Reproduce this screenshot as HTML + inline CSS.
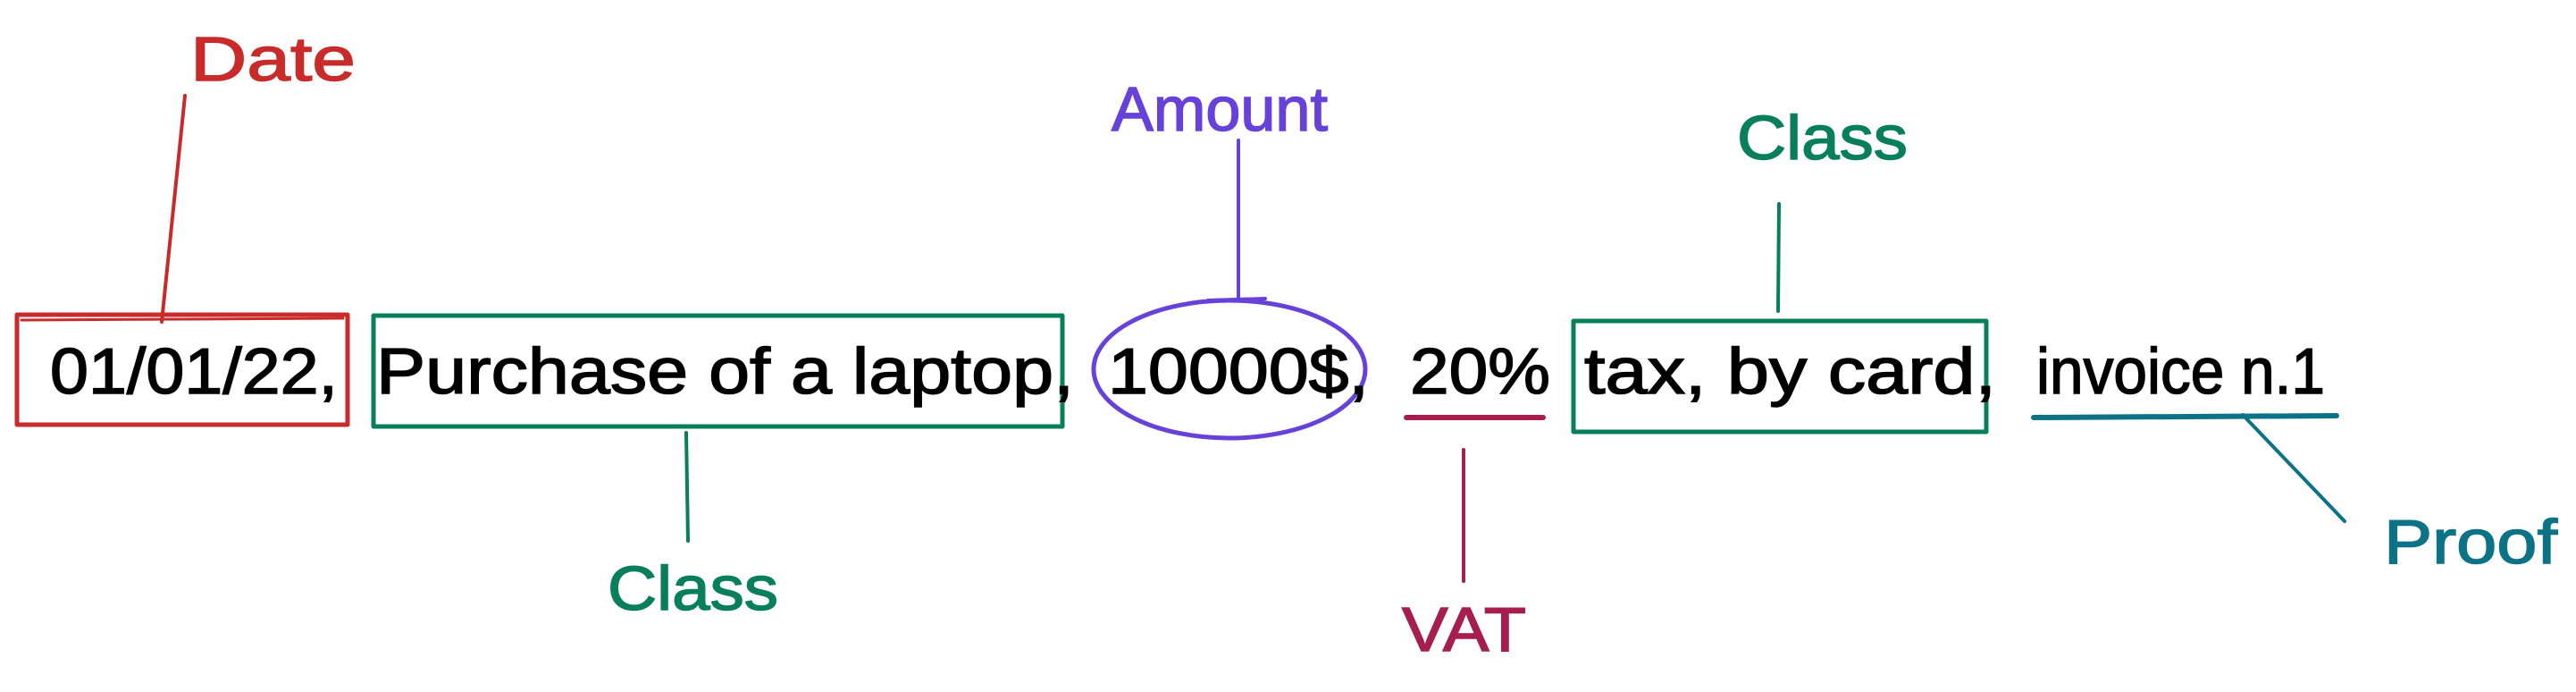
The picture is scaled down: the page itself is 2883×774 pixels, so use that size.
<!DOCTYPE html>
<html><head><meta charset="utf-8"><style>
html,body{margin:0;padding:0;background:#fff;}
svg{display:block;}
text{font-family:"Liberation Sans",sans-serif;}
</style></head><body>
<svg width="2883" height="774" viewBox="0 0 2883 774" xmlns="http://www.w3.org/2000/svg">
<g fill="none" stroke-linecap="round" stroke-linejoin="round">
<!-- Date -->
<rect x="19" y="352" width="370" height="123" stroke="#c92a2a" stroke-width="5"/>
<path d="M24 358 L384 356" stroke="#c92a2a" stroke-width="3"/>
<path d="M207 107 L181 360" stroke="#c92a2a" stroke-width="4"/>
<!-- Class 1 -->
<rect x="418" y="353" width="771" height="124" stroke="#087f5b" stroke-width="5"/>
<path d="M768 484 L770 605" stroke="#087f5b" stroke-width="4"/>
<!-- Amount -->
<ellipse cx="1376" cy="413" rx="152" ry="77" stroke="#6741d9" stroke-width="5"/>
<path d="M1386 157 L1386 333" stroke="#6741d9" stroke-width="4"/>
<path d="M1352 336 L1416 334" stroke="#6741d9" stroke-width="4"/>
<!-- VAT -->
<path d="M1574 467 L1727 467" stroke="#a61e4d" stroke-width="6"/>
<path d="M1638 503 L1638 650" stroke="#a61e4d" stroke-width="4"/>
<!-- Class 2 -->
<rect x="1761" y="359" width="462" height="124" stroke="#087f5b" stroke-width="5"/>
<path d="M1991 228 L1990 348" stroke="#087f5b" stroke-width="4"/>
<!-- Proof -->
<path d="M2276 467 L2615 465" stroke="#0c7285" stroke-width="6"/>
<path d="M2510 464 L2624 583" stroke="#0c7285" stroke-width="4"/>
</g>
<g font-size="72" fill="#000" stroke="#000" stroke-width="1.5">
<text x="56" y="440" textLength="322" lengthAdjust="spacingAndGlyphs">01/01/22,</text>
<text x="421" y="440" textLength="781" lengthAdjust="spacingAndGlyphs">Purchase of a laptop,</text>
<text x="1240" y="440" textLength="292" lengthAdjust="spacingAndGlyphs">10000$,</text>
<text x="1578" y="440" textLength="157" lengthAdjust="spacingAndGlyphs">20%</text>
<text x="1773" y="440" textLength="461" lengthAdjust="spacingAndGlyphs">tax, by card,</text>
<text x="2279" y="440" textLength="323" lengthAdjust="spacingAndGlyphs">invoice n.1</text>
</g>
<g font-size="70" stroke-width="1.5">
<text x="213" y="90" fill="#c92a2a" stroke="#c92a2a" textLength="185" lengthAdjust="spacingAndGlyphs">Date</text>
<text x="680" y="682" fill="#087f5b" stroke="#087f5b" textLength="191" lengthAdjust="spacingAndGlyphs">Class</text>
<text x="1244" y="146" fill="#6741d9" stroke="#6741d9" textLength="242" lengthAdjust="spacingAndGlyphs">Amount</text>
<text x="1569" y="728" fill="#a61e4d" stroke="#a61e4d" textLength="139" lengthAdjust="spacingAndGlyphs">VAT</text>
<text x="1944" y="178" fill="#087f5b" stroke="#087f5b" textLength="191" lengthAdjust="spacingAndGlyphs">Class</text>
<text x="2668" y="630" fill="#0c7285" stroke="#0c7285" textLength="194" lengthAdjust="spacingAndGlyphs">Proof</text>
</g>
</svg>
</body></html>
